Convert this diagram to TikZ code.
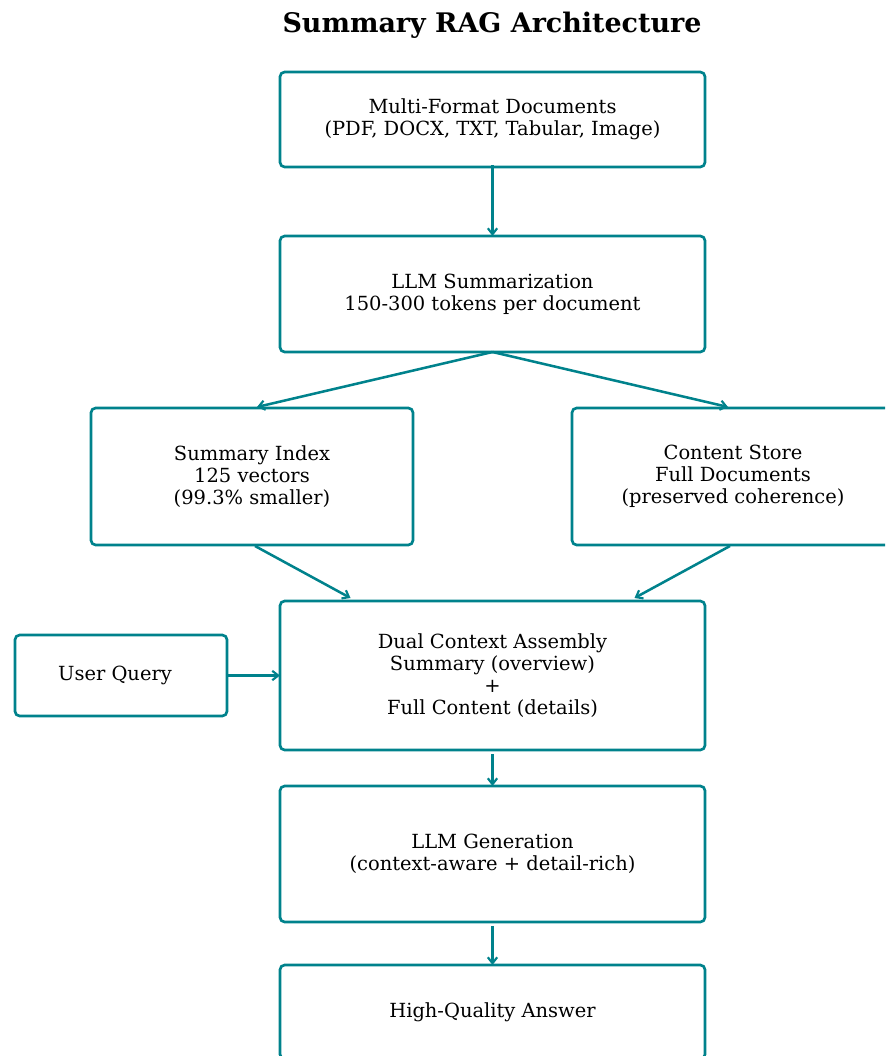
\documentclass[tikz,border=0pt]{standalone}
\usepackage{fontspec}
\setmainfont{DejaVu Serif}
\usetikzlibrary{calc,arrows.meta}
\definecolor{tealc}{RGB}{0,130,140}
\begin{document}
\begin{tikzpicture}[x=0.75pt,y=-0.75pt,
  box/.style={draw=tealc,line width=2pt,rounded corners=3.5pt,inner sep=0pt,outer sep=0pt,align=center,
    font=\fontsize{14.6}{16.5}\selectfont,text=black},
  wide/.style={minimum width=318.75pt},
  mid/.style={minimum width=241.5pt,minimum height=102.75pt},
  conn/.style={draw=tealc,line width=1.9pt,-{Straight Barb[length=4.5pt,width=7pt,line width=1.6pt]}},
  ttl/.style={font=\bfseries\fontsize{20.2}{24}\selectfont}]
\useasboundingbox (0,0) rectangle (885,1056);
\clip (0,0) rectangle (885,1056);
\node[ttl] (title) at (492,25) {Summary RAG Architecture};
\node[box,wide,minimum height=71.25pt] (b1) at (492.5,119.5) {Multi-Format Documents\\(PDF, DOCX, TXT, Tabular, Image)};
\node[box,wide,minimum height=87pt] (b2) at (492.5,294) {LLM Summarization\\150-300 tokens per document};
\node[box,mid] (b3) at (252,476.5) {Summary Index\\125 vectors\\(99.3\% smaller)};
\node[box,mid] (b4) at (733,476.5) {Content Store\\Full Documents\\(preserved coherence)};
\node[box,wide,minimum height=111.75pt] (b5) at (492.5,675.5) {Dual Context Assembly\\Summary (overview)\\+\\Full Content (details)};
\node[box,minimum width=159pt,minimum height=60.75pt] (uq) at (121,675.5) {\hspace*{-9pt}User Query};
\node[box,wide,minimum height=102pt] (b6) at (492.5,854) {LLM Generation\\(context-aware + detail-rich)};
\node[box,wide,minimum height=70.5pt] (b7) at (492.5,1012) {High-Quality Answer};
\draw[conn] ($(b1.south)+(0,-2)$) -- (b2.north);
\draw[conn] (b2.south) -- ($(b3.north)+(5,-1)$);
\draw[conn] (b2.south) -- ($(b4.north)+(-5,-1)$);
\draw[conn] ($(b3.south)+(3,1)$) -- ($(b5.north)+(-142,-3)$);
\draw[conn] ($(b4.south)+(-3,1)$) -- ($(b5.north)+(142,-3)$);
\draw[conn] (uq.east) -- (b5.west);
\draw[conn] ($(b5.south)+(0,4)$) -- (b6.north);
\draw[conn] ($(b6.south)+(0,4)$) -- (b7.north);
\end{tikzpicture}
\end{document}
